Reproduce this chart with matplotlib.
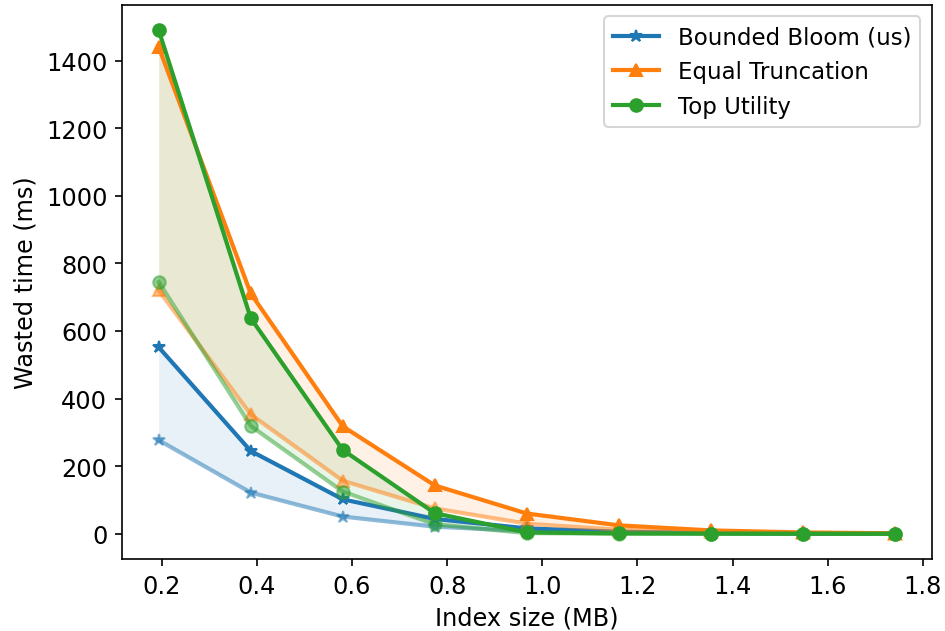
import matplotlib
matplotlib.use("Agg")
import matplotlib.pyplot as plt
import numpy as np

index_size = [0.1935, 0.387, 0.5805, 0.774, 0.9675, 1.161, 1.3545, 1.548, 1.7415]

bloom_hi = [552, 245, 102, 44, 16, 6, 2.5, 1, 0.4]
bloom_lo = [277, 122, 51, 21, 8, 3, 1.2, 0.5, 0.2]

trunc_hi = [1440, 711, 318, 143, 60, 25, 10, 4, 1.5]
trunc_lo = [720, 353, 157, 75, 30, 12, 5, 2, 0.7]

util_hi = [1490, 638, 248, 61, 4, 1, 0.5, 0.2, 0.1]
util_lo = [745, 319, 125, 28, 2, 0.5, 0.2, 0.1, 0.05]

labels = ["Bounded Bloom (us)", "Equal Truncation", "Top Utility"]
colors = ["#1f77b4", "#ff7f0e", "#2ca02c"]
markers = ["*", "^", "o"]

plt.rcParams['font.size'] = 11.5

fig = plt.figure(figsize=(6.3, 4.2133), dpi=150)
ax = fig.add_axes([0.129, 0.114, 0.857, 0.8765])

series = [(bloom_hi, bloom_lo), (trunc_hi, trunc_lo), (util_hi, util_lo)]
for (hi, lo), lab, c, m in zip(series, labels, colors, markers):
    ax.plot(index_size, hi, marker=m, color=c, label=lab, linewidth=2)
    ax.plot(index_size, lo, marker=m, color=c, alpha=0.5, linewidth=2)
    ax.fill_between(index_size, lo, hi, color=c, alpha=0.1, linewidth=0)

ax.set_xlabel("Index size (MB)")
ax.set_ylabel("Wasted time (ms)")
ax.legend(loc="upper right", fontsize=11)
fig.savefig("out.png", dpi=150)
